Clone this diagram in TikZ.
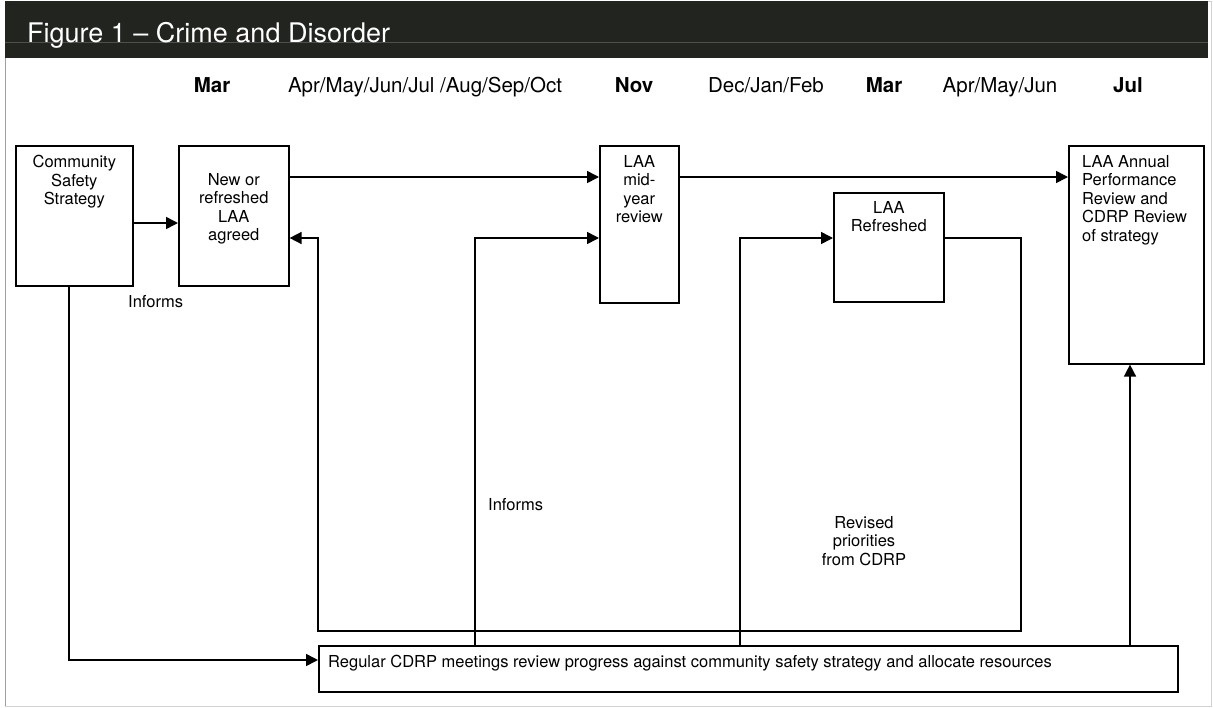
\documentclass[tikz,border=0pt]{standalone}
\usepackage{fontspec}
\setmainfont{TeX Gyre Heros}
\usetikzlibrary{arrows.meta}
\usetikzlibrary{calc,positioning}
\definecolor{kopf}{HTML}{222420}
\tikzset{
    %Standard-Pfeilspitze
    >={Triangle[length=12pt,width=12pt]},
    %Kaesten
    kasten/.style={
           rectangle,
           draw=black, line width=1.6pt,
           anchor=north west,
           inner sep=0pt},
    %Schrift in und neben den Kaesten
    schrift/.style={
           inner sep=0pt,
           align=center,
           font=\fontsize{16.5}{18.5}\selectfont},
    %Monatsleiste
    monat/.style={
           anchor=base,
           inner sep=0pt,
           font=\fontsize{20.5}{24}\selectfont},
    monatfett/.style={
           monat,
           font=\fontsize{20.5}{24}\selectfont\bfseries},
    %Pfeile
    pil/.style={
           ->,
           line width=1.6pt},
}

\begin{document}
\begin{tikzpicture}[x=1pt,y=-1pt]
\useasboundingbox (0,0) rectangle (1213,707);

% Rahmen und Kopfzeile
\draw[gray!35, line width=0.8pt] (5,1) rectangle (1211,706);
\draw[gray!75, line width=1pt] (5,58) -- (5,706);
\fill[kopf] (5,1) rectangle (1208,58);
\draw[kopf!80!white, line width=0.6pt] (5,42) -- (1208,42);
\node[anchor=base west, inner sep=0pt, text=white,
      font=\fontsize{27}{30}\selectfont] (titel) at (27,42)
      {Figure 1 – Crime and Disorder};

% Monate
\node[monatfett] (mar1) at (212,92) {Mar};
\node[monat] (aprokt) at (425,92) {Apr/May/Jun/Jul /Aug/Sep/Oct};
\node[monatfett] (nov) at (634,92) {Nov};
\node[monat] (dezfeb) at (766,92) {Dec/Jan/Feb};
\node[monatfett] (mar2) at (884,92) {Mar};
\node[monat] (aprjun) at (1000,92) {Apr/May/Jun};
\node[monatfett] (jul) at (1128,92) {Jul};

% Kaesten
\node[kasten, minimum width=117pt, minimum height=140pt] (css) at (15,145) {};
\node[kasten, minimum width=110pt, minimum height=140pt] (neu) at (178,145) {};
\node[kasten, minimum width=79pt, minimum height=157pt] (mitte) at (599,145) {};
\node[kasten, minimum width=110pt, minimum height=109pt] (refr) at (833,192) {};
\node[kasten, minimum width=135pt, minimum height=218pt] (jahr) at (1068,145) {};
\node[kasten, minimum width=859pt, minimum height=46pt] (treffen) at (318,645) {};

% Texte in den Kaesten
\node[schrift, below=10pt of css.north] (cssT) {Community\\Safety\\Strategy};
\node[schrift, below=28pt of neu.north] (neuT) {New or\\refreshed\\LAA\\agreed};
\node[schrift, below=10pt of mitte.north] (mitteT) {LAA\\mid-\\year\\review};
\node[schrift, below=9pt of refr.north] (refrT) {LAA\\Refreshed};
\node[schrift, align=left, below right=10pt and 14pt of jahr.north west] (jahrT)
      {LAA Annual\\Performance\\Review and\\CDRP Review\\of strategy};
\node[schrift, below right=10pt and 10pt of treffen.north west] (treffenT)
      {Regular CDRP meetings review progress against community safety strategy and allocate resources};

% Beschriftungen
\node[schrift, anchor=base west] (inf1) at (128,307) {Informs};
\node[schrift, anchor=base west] (inf2) at (488,510) {Informs};
\node[schrift, anchor=north] (rev) at (864,516) {Revised\\priorities\\from CDRP};

% Hilfspunkte
\coordinate (cssX) at (69,0);
\coordinate (infX) at (475,0);
\coordinate (revX) at (740,0);
\coordinate (aufX) at (1130,0);
\coordinate (rueckR) at (1021,631);
\coordinate (rueckL) at (318,631);

% Pfeile oben
\draw[pil] ([yshift=-78pt]css.north east) -- ([yshift=-78pt]neu.north west);
\draw[pil] ([yshift=-32pt]neu.north east) -- ([yshift=-32pt]mitte.north west);
\draw[pil] ([yshift=-32pt]mitte.north east) -- ([yshift=-32pt]jahr.north west);

% Rueckfuehrung
\draw[pil] ([yshift=-46pt]refr.north east) -| (rueckR) -- (rueckL)
      |- ([yshift=-93pt]neu.north east);

% Pfeile von unten
\draw[pil] (treffen.north -| infX) |- ([yshift=-93pt]mitte.north west);
\draw[pil] (treffen.north -| revX) |- ([yshift=-46pt]refr.north west);
\draw[pil] (treffen.north -| aufX) -- (jahr.south -| aufX);
\draw[pil] (css.south -| cssX) |- ([yshift=-15pt]treffen.north west);
\end{tikzpicture}
\end{document}
